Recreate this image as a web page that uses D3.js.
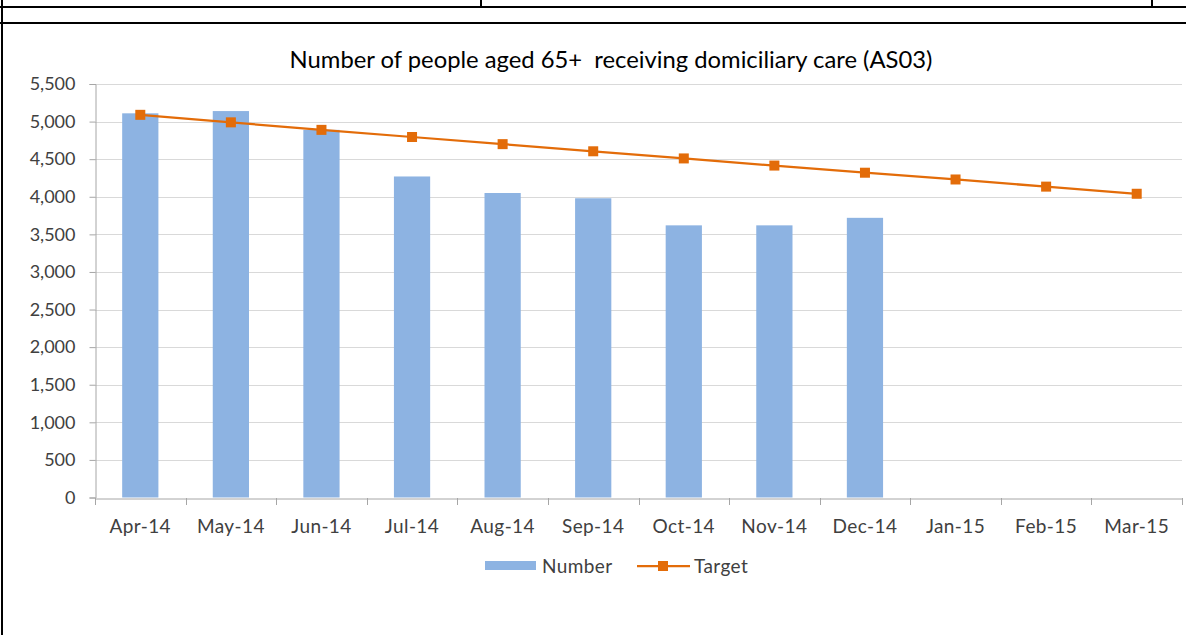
<!DOCTYPE html>
<html>
<head>
<meta charset="utf-8">
<script src="https://cdn.jsdelivr.net/npm/d3@7"></script>
<style>
  html, body { margin: 0; padding: 0; background: #fff; }
  svg { display: block; font-family: Lato, "Open Sans", sans-serif; }
</style>
</head>
<body>
<div id="chart"></div>
<script>
const months = ['Apr-14', 'May-14', 'Jun-14', 'Jul-14', 'Aug-14', 'Sep-14', 'Oct-14', 'Nov-14', 'Dec-14', 'Jan-15', 'Feb-15', 'Mar-15'];
const numberValues = [5110, 5140, 4890, 4270, 4050, 3980, 3620, 3620, 3720, null, null, null];
const targetValues = [5090, 4990, 4890, 4795, 4700, 4605, 4510, 4415, 4320, 4230, 4135, 4040];
const yTicks = [0, 500, 1000, 1500, 2000, 2500, 3000, 3500, 4000, 4500, 5000, 5500];
const titleText = 'Number of people aged 65+  receiving domiciliary care (AS03)';

const width = 1186, height = 635;
const margin = { top: 84, right: 4, bottom: 137.5, left: 95 };

const svg = d3.select('#chart')
  .append('svg')
  .attr('width', width)
  .attr('height', height);

// surrounding table borders
const border = svg.append('g').attr('stroke', '#000').attr('stroke-width', 2);
border.append('line').attr('x1', 2).attr('x2', 2).attr('y1', 0).attr('y2', height);
border.append('line').attr('x1', 0).attr('x2', width).attr('y1', 7).attr('y2', 7);
border.append('line').attr('x1', 0).attr('x2', width).attr('y1', 23).attr('y2', 23);
border.append('line').attr('x1', 481).attr('x2', 481).attr('y1', 0).attr('y2', 7);
border.append('line').attr('x1', 1152).attr('x2', 1152).attr('y1', 0).attr('y2', 7);

const x = d3.scaleBand()
  .domain(months)
  .range([margin.left, width - margin.right])
  .paddingInner(0.6)
  .paddingOuter(0.3);

const xTicksScale = d3.scaleBand().domain(months).range([margin.left, width - margin.right]);

const y = d3.scaleLinear()
  .domain([0, 5500])
  .range([height - margin.bottom, margin.top]);

// gridlines
svg.append('g')
  .selectAll('line')
  .data(yTicks.filter(d => d > 0))
  .join('line')
  .attr('x1', margin.left)
  .attr('x2', width - margin.right)
  .attr('y1', d => Math.round(y(d)) + 0.5)
  .attr('y2', d => Math.round(y(d)) + 0.5)
  .attr('stroke', '#d9d9d9')
  .attr('stroke-width', 1);

// bars
svg.append('g')
  .selectAll('rect')
  .data(months.map((m, i) => ({ m, v: numberValues[i] })).filter(d => d.v != null))
  .join('rect')
  .attr('x', d => x(d.m))
  .attr('width', x.bandwidth())
  .attr('y', d => y(d.v))
  .attr('height', d => y(0) - y(d.v))
  .attr('fill', '#8db3e2');

// y axis
const yAxis = svg.append('g')
  .attr('transform', `translate(${margin.left + 0.5},0)`)
  .call(d3.axisLeft(y).tickValues(yTicks).tickFormat(d3.format(',')).tickSize(6).tickPadding(14));
yAxis.select('.domain').attr('stroke', '#a6a6a6');
yAxis.selectAll('.tick line').attr('stroke', '#a6a6a6');
yAxis.selectAll('.tick text').attr('fill', '#404040').style('font-size', '18px').attr('font-family', 'Lato, sans-serif');

// x axis
const xAxis = svg.append('g')
  .attr('transform', `translate(0,${Math.round(y(0)) + 0.5})`)
  .call(d3.axisBottom(xTicksScale).tickSize(0).tickPadding(21));
xAxis.select('.domain').attr('stroke', '#a6a6a6');
xAxis.selectAll('.tick text').attr('fill', '#404040').style('font-size', '19px').style('letter-spacing', '0.4px').attr('font-family', 'Lato, sans-serif');
// category boundary tick marks
svg.append('g')
  .selectAll('line')
  .data(months.map((m, i) => i).concat([months.length]))
  .join('line')
  .attr('x1', i => Math.round(margin.left + i * xTicksScale.step()) + 0.5)
  .attr('x2', i => Math.round(margin.left + i * xTicksScale.step()) + 0.5)
  .attr('y1', Math.round(y(0)))
  .attr('y2', Math.round(y(0)) + 7)
  .attr('stroke', '#a6a6a6');

// target line
const line = d3.line()
  .x((d, i) => xTicksScale(months[i]) + xTicksScale.bandwidth() / 2)
  .y(d => y(d));

svg.append('path')
  .datum(targetValues)
  .attr('fill', 'none')
  .attr('stroke', '#e36c09')
  .attr('stroke-width', 2.25)
  .attr('d', line);

svg.append('g')
  .selectAll('rect')
  .data(targetValues)
  .join('rect')
  .attr('x', (d, i) => xTicksScale(months[i]) + xTicksScale.bandwidth() / 2 - 5)
  .attr('y', d => y(d) - 5)
  .attr('width', 10)
  .attr('height', 10)
  .attr('fill', '#e36c09');

// title
svg.append('text')
  .attr('x', 611)
  .attr('y', 68)
  .attr('text-anchor', 'middle')
  .attr('fill', '#000')
  .style('font-size', '23.8px')
  .style('white-space', 'pre')
  .attr('xml:space', 'preserve')
  .text(titleText);

// legend
const legend = svg.append('g');
legend.append('rect').attr('x', 485).attr('y', 561).attr('width', 51).attr('height', 9).attr('fill', '#8db3e2');
legend.append('text').attr('x', 542).attr('y', 573).attr('fill', '#404040').style('font-size', '19px').style('letter-spacing', '0.4px').text('Number');
legend.append('line').attr('x1', 637).attr('x2', 690).attr('y1', 566).attr('y2', 566).attr('stroke', '#e36c09').attr('stroke-width', 2.25);
legend.append('rect').attr('x', 658).attr('y', 561).attr('width', 10).attr('height', 10).attr('fill', '#e36c09');
legend.append('text').attr('x', 694).attr('y', 573).attr('fill', '#404040').style('font-size', '19px').style('letter-spacing', '0.4px').text('Target');
</script>
</body>
</html>
